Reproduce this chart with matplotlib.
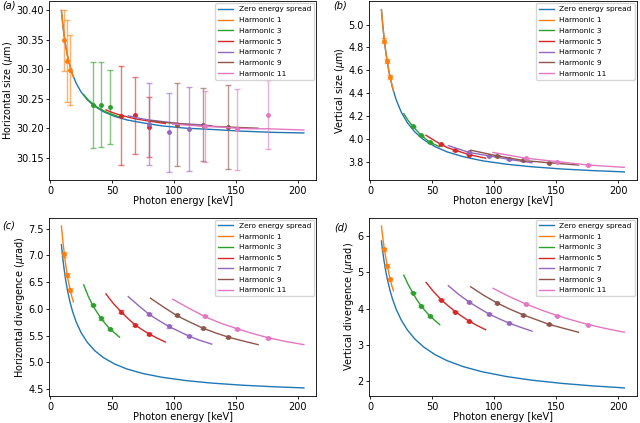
import numpy as np
import matplotlib
matplotlib.use('Agg')
import matplotlib.pyplot as plt

# ---------------- data ----------------
harmonics = [1, 3, 5, 7, 9, 11]
colors = ['C1', 'C2', 'C3', 'C4', 'C5', 'C6']

# zero energy spread curves
zero_e = [9, 10, 11, 12.5, 14, 16, 18, 21, 25, 30, 36, 43, 52, 62, 75, 90, 110, 130, 155, 180, 205]
zero_hsize = [30.399, 30.378, 30.360, 30.339, 30.322, 30.305, 30.291, 30.276, 30.261, 30.248, 30.237,
              30.228, 30.220, 30.214, 30.209, 30.204, 30.200, 30.198, 30.195, 30.193, 30.192]
zero_vsize = [5.131, 5.001, 4.892, 4.759, 4.651, 4.536, 4.445, 4.338, 4.233, 4.139, 4.059,
              3.992, 3.932, 3.885, 3.843, 3.808, 3.777, 3.755, 3.735, 3.721, 3.710]
zero_hdiv = [7.200, 6.969, 6.773, 6.530, 6.333, 6.121, 5.951, 5.751, 5.551, 5.371, 5.216,
             5.086, 4.968, 4.874, 4.789, 4.720, 4.656, 4.611, 4.571, 4.542, 4.520]
zero_vdiv = [5.860, 5.576, 5.333, 5.025, 4.770, 4.488, 4.256, 3.974, 3.684, 3.409, 3.162,
             2.946, 2.739, 2.568, 2.404, 2.265, 2.131, 2.033, 1.942, 1.873, 1.819]

# harmonic curves (one list per harmonic)
curve_e = [
    [9.0, 10.2, 11.4, 12.55, 13.7, 14.85, 16.0, 17.3, 18.65],
    [27, 30.6, 34.2, 37.65, 41.1, 44.55, 48, 51.9, 56],
    [45, 51, 57, 62.75, 68.5, 74.25, 80, 86.5, 93],
    [63, 71.4, 79.8, 87.85, 95.9, 104, 112, 121, 130.5],
    [81, 91.8, 102.6, 113, 123.3, 133.6, 144, 155.7, 168],
    [99, 112.2, 125.4, 138.1, 150.7, 163.4, 176, 190.3, 205],
]
curve_hsize = [
    [30.400, 30.374, 30.354, 30.338, 30.325, 30.314, 30.305, 30.296, 30.287],
    [30.257, 30.248, 30.242, 30.236, 30.232, 30.228, 30.225, 30.222, 30.219],
    [30.231, 30.226, 30.222, 30.219, 30.216, 30.214, 30.212, 30.210, 30.208],
    [30.221, 30.217, 30.214, 30.212, 30.210, 30.208, 30.207, 30.206, 30.204],
    [30.213, 30.210, 30.208, 30.206, 30.204, 30.203, 30.202, 30.201, 30.200],
    [30.207, 30.205, 30.203, 30.202, 30.200, 30.199, 30.199, 30.198, 30.197],
]
curve_vsize = [
    [5.13, 4.98, 4.86, 4.76, 4.67, 4.60, 4.54, 4.48, 4.42],
    [4.22, 4.16, 4.11, 4.07, 4.03, 4.00, 3.97, 3.95, 3.93],
    [4.03, 3.99, 3.95, 3.92, 3.90, 3.88, 3.86, 3.845, 3.83],
    [3.94, 3.91, 3.88, 3.865, 3.85, 3.835, 3.82, 3.805, 3.79],
    [3.90, 3.875, 3.85, 3.83, 3.81, 3.80, 3.79, 3.78, 3.77],
    [3.88, 3.855, 3.83, 3.815, 3.80, 3.785, 3.77, 3.76, 3.75],
]
curve_hdiv = [
    [7.55, 7.26, 7.02, 6.81, 6.64, 6.49, 6.36, 6.24, 6.13],
    [6.45, 6.24, 6.07, 5.94, 5.82, 5.72, 5.63, 5.55, 5.47],
    [6.28, 6.10, 5.95, 5.82, 5.70, 5.61, 5.53, 5.45, 5.38],
    [6.23, 6.06, 5.90, 5.78, 5.67, 5.58, 5.49, 5.41, 5.34],
    [6.20, 6.03, 5.87, 5.75, 5.64, 5.55, 5.47, 5.40, 5.33],
    [6.18, 6.01, 5.85, 5.73, 5.63, 5.54, 5.46, 5.39, 5.33],
]
curve_vdiv = [
    [6.27, 5.92, 5.63, 5.39, 5.18, 4.99, 4.81, 4.64, 4.49],
    [4.92, 4.66, 4.44, 4.24, 4.07, 3.93, 3.80, 3.68, 3.56],
    [4.72, 4.47, 4.25, 4.08, 3.92, 3.78, 3.65, 3.53, 3.42],
    [4.63, 4.39, 4.18, 4.01, 3.85, 3.72, 3.60, 3.49, 3.38],
    [4.60, 4.36, 4.15, 3.98, 3.83, 3.70, 3.57, 3.46, 3.35],
    [4.56, 4.33, 4.13, 3.96, 3.81, 3.68, 3.56, 3.45, 3.35],
]

# simulated points (three per harmonic)
pt_e = [
    [11.4, 13.7, 16.0],
    [34.2, 41.1, 48.0],
    [57.0, 68.5, 80.0],
    [79.8, 95.9, 112.0],
    [102.6, 123.3, 144.0],
    [125.4, 150.7, 176.0],
]
pt_hsize = [
    [30.349, 30.314, 30.299],
    [30.240, 30.240, 30.236],
    [30.221, 30.222, 30.202],
    [30.207, 30.193, 30.199],
    [30.206, 30.206, 30.202],
    [30.203, 30.198, 30.223],
]
err_hsize = [
    [0.052, 0.069, 0.059],
    [0.073, 0.072, 0.062],
    [0.084, 0.065, 0.051],
    [0.070, 0.067, 0.071],
    [0.070, 0.062, 0.071],
    [0.060, 0.068, 0.058],
]
pt_vsize = [
    [4.86, 4.68, 4.54],
    [4.11, 4.03, 3.97],
    [3.95, 3.90, 3.86],
    [3.88, 3.85, 3.82],
    [3.85, 3.81, 3.79],
    [3.83, 3.80, 3.77],
]
pt_hdiv = [
    [7.02, 6.64, 6.36],
    [6.07, 5.82, 5.63],
    [5.95, 5.70, 5.53],
    [5.90, 5.67, 5.49],
    [5.88, 5.64, 5.47],
    [5.86, 5.63, 5.46],
]
pt_vdiv = [
    [5.63, 5.18, 4.81],
    [4.44, 4.07, 3.80],
    [4.25, 3.92, 3.65],
    [4.18, 3.85, 3.60],
    [4.15, 3.83, 3.57],
    [4.13, 3.81, 3.56],
]
# small error bars in panels b-d (per harmonic)
err_vsize = [0.02, 0.006, 0.005, 0.005, 0.005, 0.005]
err_hdiv = [0.04, 0.02, 0.02, 0.02, 0.02, 0.02]
err_vdiv = [0.04, 0.02, 0.02, 0.02, 0.02, 0.02]

# ---------------- plotting ----------------
plt.rcParams['font.size'] = 7
plt.rcParams['axes.linewidth'] = 0.6
plt.rcParams['xtick.major.width'] = 0.6
plt.rcParams['ytick.major.width'] = 0.6
plt.rcParams['xtick.major.size'] = 2.5
plt.rcParams['ytick.major.size'] = 2.5

fig = plt.figure(figsize=(6.4, 4.23), dpi=100)
W, H = 640, 423
def add_ax(l, t, r, b):
    return fig.add_axes([l / W, 1 - b / H, (r - l) / W, (b - t) / H])

axa = add_ax(49.3, 1.5, 316, 180)
axb = add_ax(369.3, 1.5, 636.5, 180)
axc = add_ax(49.3, 218, 316, 396)
axd = add_ax(369.3, 218, 636.5, 396)

panels = [
    (axa, zero_hsize, curve_hsize, pt_hsize, err_hsize, r'Horizontal size ($\mu$m)', True),
    (axb, zero_vsize, curve_vsize, pt_vsize, err_vsize, r'Vertical size ($\mu$m)', False),
    (axc, zero_hdiv, curve_hdiv, pt_hdiv, err_hdiv, r'Horizontal divergence ($\mu$rad)', False),
    (axd, zero_vdiv, curve_vdiv, pt_vdiv, err_vdiv, r'Vertical divergence ($\mu$rad)', False),
]

for ax, zero, curves, pts, errs, ylab, big_err in panels:
    ax.plot(zero_e, zero, color='C0', lw=1.0, label='Zero energy spread')
    for i, n in enumerate(harmonics):
        c = colors[i]
        ax.plot(curve_e[i], curves[i], color=c, lw=1.0, label='Harmonic %d' % n)
        yerr = errs[i] if big_err else [errs[i]] * 3
        ax.errorbar(pt_e[i], pts[i], yerr=yerr, fmt='none', ecolor=c,
                    elinewidth=1.0, capsize=2.2, alpha=0.6)
        ax.plot(pt_e[i], pts[i], 'o', color=c, ms=2.5)
    ax.set_xlabel('Photon energy [keV]', labelpad=0)
    ax.set_ylabel(ylab, labelpad=1)
    ax.set_xticks([0, 50, 100, 150, 200])
    ax.tick_params(labelsize=7, pad=1.5)
    ax.legend(loc='upper right', fontsize=5.3, borderaxespad=0.25, handlelength=2.0,
              labelspacing=0.62)

axa.set_yticks([30.15, 30.20, 30.25, 30.30, 30.35, 30.40])
axb.set_yticks([3.8, 4.0, 4.2, 4.4, 4.6, 4.8, 5.0])
axc.set_yticks([4.5, 5.0, 5.5, 6.0, 6.5, 7.0, 7.5])
axd.set_yticks([2, 3, 4, 5, 6])

for txt, x, y in [('(a)', 2, 9), ('(b)', 333, 9), ('(c)', 2, 228), ('(d)', 334, 230)]:
    fig.text(x / W, 1 - y / H, txt, fontsize=7, fontstyle='italic')

fig.savefig('out.png', dpi=100)
